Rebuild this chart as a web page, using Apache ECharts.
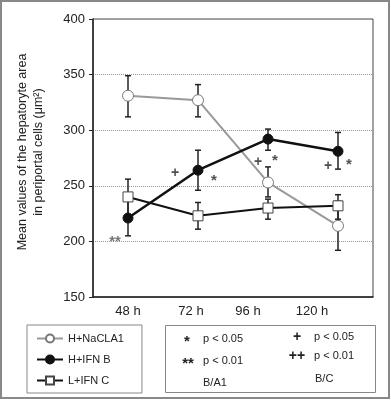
<!DOCTYPE html>
<html><head><meta charset="utf-8">
<script src="https://cdn.jsdelivr.net/npm/echarts@6/dist/echarts.min.js"></script>
<style>html,body{margin:0;padding:0;background:#fff}#c{width:391px;height:400px}</style>
</head><body><div id="c"></div>
<script>
const categories = ['48 h', '72 h', '96 h', '120 h'];
const seriesNames = ['H+NaCLA1', 'H+IFN B', 'L+IFN C'];
const valuesA = [331, 327, 253, 214];
const valuesB = [221, 264, 292, 281];
const valuesC = [240, 223, 230, 232];
const errLowA = [312, 312, 240, 192];
const errHighA = [349, 341, 267, 236];
const errLowB = [205, 246, 282, 265];
const errHighB = [237, 282, 301, 298];
const errLowC = [223, 211, 220, 220];
const errHighC = [256, 235, 238, 242];
const yTicks = [150, 200, 250, 300, 350, 400];
// significance annotations: [category index, value, symbol]
const annotCat = [0, 1, 1, 2, 2, 3, 3];
const annotVal = [201, 261, 258, 271, 276, 268, 272];
const annotText = ['**', '+', '*', '+', '*', '+', '*'];

const annotOffset = [[-13, 2], [-23, 0], [16, 4], [-10, 0], [7, 4], [-10, 0], [11, 4]];
const labelPad = [0, 14, 40, 52];

const chart = echarts.init(document.getElementById('c'));
const FONT = 'Liberation Sans, Arial, sans-serif';

function errSeries(lo, hi, z) {
  return {
    type: 'custom', z: z, silent: true,
    data: lo.map((l, i) => [i, l, hi[i]]),
    renderItem: function (params, api) {
      const p1 = api.coord([api.value(0), api.value(1)]);
      const p2 = api.coord([api.value(0), api.value(2)]);
      const w = 3;
      const st = { stroke: '#222', lineWidth: 1.5 };
      return { type: 'group', children: [
        { type: 'line', shape: { x1: p1[0], y1: p1[1], x2: p2[0], y2: p2[1] }, style: st },
        { type: 'line', shape: { x1: p1[0] - w, y1: p1[1], x2: p1[0] + w, y2: p1[1] }, style: st },
        { type: 'line', shape: { x1: p2[0] - w, y1: p2[1], x2: p2[0] + w, y2: p2[1] }, style: st }
      ]};
    }
  };
}

const option = {
  animation: false,
  grid: { left: 93, right: 18, top: 19, bottom: 103, show: true, borderColor: '#444', borderWidth: 1 },
  xAxis: {
    type: 'category', data: categories, boundaryGap: true,
    axisLine: { lineStyle: { color: '#222', width: 1.5 } },
    axisTick: { show: false },
    axisLabel: {
      interval: 0, hideOverlap: false,
      margin: 8, color: '#222', fontFamily: FONT, fontSize: 13,
      formatter: function (v, i) { return '{p' + i + '|' + v + '}'; },
      rich: {
        p0: { fontFamily: FONT, fontSize: 13, color: '#222', padding: [0, labelPad[0], 0, 0] },
        p1: { fontFamily: FONT, fontSize: 13, color: '#222', padding: [0, labelPad[1], 0, 0] },
        p2: { fontFamily: FONT, fontSize: 13, color: '#222', padding: [0, labelPad[2], 0, 0] },
        p3: { fontFamily: FONT, fontSize: 13, color: '#222', padding: [0, labelPad[3], 0, 0] }
      }
    }
  },
  yAxis: {
    type: 'value', min: yTicks[0], max: yTicks[yTicks.length - 1], interval: 50,
    name: 'Mean values of the hepatoryte area\nin periportal cells (μm²)',
    nameLocation: 'middle', nameGap: 46, nameRotate: 90,
    nameTextStyle: { fontFamily: FONT, fontSize: 12.5, color: '#222', lineHeight: 16, padding: [0, 0, 0, 12] },
    axisLine: { show: true, lineStyle: { color: '#222', width: 1.5 } },
    axisTick: { show: true, length: 4, lineStyle: { color: '#222' } },
    axisLabel: { margin: 8, color: '#222', fontFamily: FONT, fontSize: 13 },
    splitLine: { show: true, lineStyle: { color: '#999', type: 'dotted', width: 1 } }
  },
  legend: {
    orient: 'vertical', left: 27, top: 325,
    padding: [8, 18, 7, 9], itemGap: 10, itemWidth: 26, itemHeight: 10,
    borderColor: '#888', borderWidth: 1,
    textStyle: { fontFamily: FONT, fontSize: 11, color: '#222' },
    data: seriesNames
  },
  graphic: [
    { type: 'rect', shape: { x: 1, y: 1, width: 388, height: 397 }, style: { fill: 'none', stroke: '#888', lineWidth: 2 }, z: 100 },
    { type: 'rect', shape: { x: 165.5, y: 325.5, width: 210, height: 67 }, style: { fill: 'none', stroke: '#888', lineWidth: 1 } },
    { type: 'text', x: 187, y: 342, style: { text: '*', font: 'bold 15px ' + FONT, fill: '#222', textAlign: 'center', textVerticalAlign: 'middle' } },
    { type: 'text', x: 203, y: 339, style: { text: 'p < 0.05', font: '11px ' + FONT, fill: '#222', textVerticalAlign: 'middle' } },
    { type: 'text', x: 188, y: 364, style: { text: '**', font: 'bold 15px ' + FONT, fill: '#222', textAlign: 'center', textVerticalAlign: 'middle' } },
    { type: 'text', x: 203, y: 361, style: { text: 'p < 0.01', font: '11px ' + FONT, fill: '#222', textVerticalAlign: 'middle' } },
    { type: 'text', x: 203, y: 383, style: { text: 'B/A1', font: '11px ' + FONT, fill: '#222', textVerticalAlign: 'middle' } },
    { type: 'text', x: 297, y: 337, style: { text: '+', font: 'bold 14px ' + FONT, fill: '#222', textAlign: 'center', textVerticalAlign: 'middle' } },
    { type: 'text', x: 314, y: 337, style: { text: 'p < 0.05', font: '11px ' + FONT, fill: '#222', textVerticalAlign: 'middle' } },
    { type: 'text', x: 297, y: 356, style: { text: '++', font: 'bold 14px ' + FONT, fill: '#222', textAlign: 'center', textVerticalAlign: 'middle' } },
    { type: 'text', x: 314, y: 356, style: { text: 'p < 0.01', font: '11px ' + FONT, fill: '#222', textVerticalAlign: 'middle' } },
    { type: 'text', x: 315, y: 379, style: { text: 'B/C', font: '11px ' + FONT, fill: '#222', textVerticalAlign: 'middle' } }
  ],
  series: [
    errSeries(errLowA, errHighA, 1),
    errSeries(errLowB, errHighB, 1),
    errSeries(errLowC, errHighC, 1),
    {
      name: seriesNames[0], type: 'line', data: valuesA, z: 3,
      symbol: 'circle', symbolSize: 11, showAllSymbol: true,
      lineStyle: { color: '#999', width: 2 },
      itemStyle: { color: '#fff', borderColor: '#777', borderWidth: 1 }
    },
    {
      name: seriesNames[1], type: 'line', data: valuesB, z: 4,
      symbol: 'circle', symbolSize: 10,
      lineStyle: { color: '#111', width: 2.5 },
      itemStyle: { color: '#111', borderColor: '#111', borderWidth: 1 }
    },
    {
      name: seriesNames[2], type: 'line', data: valuesC, z: 3,
      symbol: 'rect', symbolSize: 10,
      lineStyle: { color: '#111', width: 2 },
      itemStyle: { color: '#fff', borderColor: '#444', borderWidth: 1 }
    },
    {
      type: 'scatter', symbol: 'circle', symbolSize: 2, silent: true, z: 5,
      itemStyle: { color: 'rgba(0,0,0,0)' },
      data: annotCat.map((c, i) => ({
        value: [c, annotVal[i]],
        label: {
          show: true, position: 'inside', formatter: annotText[i],
          offset: annotOffset[i],
          fontFamily: FONT, fontWeight: 'bold',
          fontSize: annotText[i].indexOf('*') >= 0 ? 15 : 14,
          color: annotText[i] === '**' ? '#555' : '#222'
        }
      }))
    }
  ]
};
chart.setOption(option);
</script></body></html>
